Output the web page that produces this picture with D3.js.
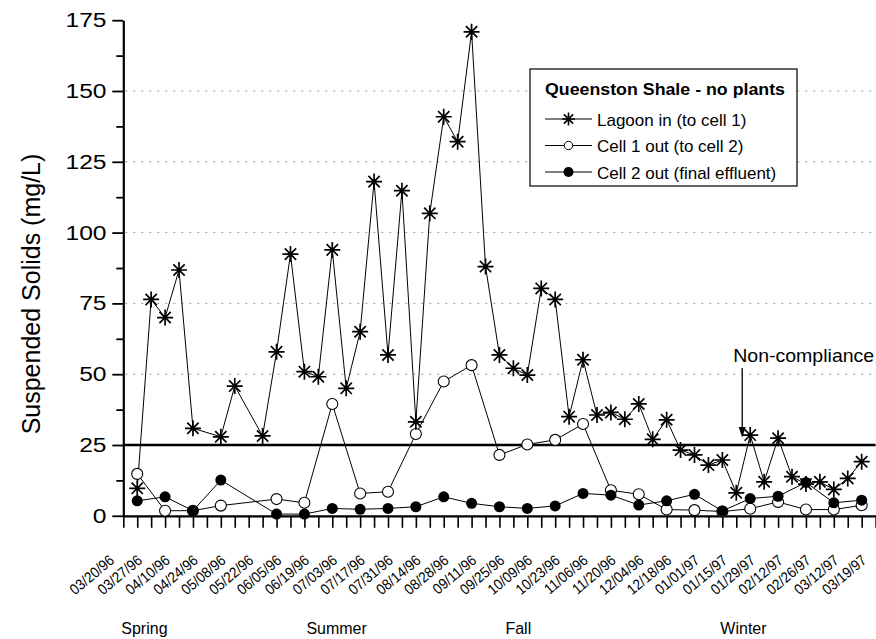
<!DOCTYPE html>
<html>
<head>
<meta charset="utf-8">
<script src="https://cdn.jsdelivr.net/npm/d3@7/dist/d3.min.js"></script>
<style>
  html, body { margin: 0; padding: 0; background: #fff; }
  svg { display: block; font-family: "Liberation Sans", Arial, sans-serif; }
</style>
</head>
<body>
<svg id="chart" width="876" height="639"></svg>
<script>
// Weekly sampling dates (Wednesday samples, 1996-97)
const sampleDates = [
  "03/20/96","03/27/96","04/03/96","04/10/96","04/17/96","04/24/96","05/01/96","05/08/96",
  "05/15/96","05/22/96","05/29/96","06/05/96","06/12/96","06/19/96","06/26/96","07/03/96",
  "07/10/96","07/17/96","07/24/96","07/31/96","08/07/96","08/14/96","08/21/96","08/28/96",
  "09/04/96","09/11/96","09/18/96","09/25/96","10/02/96","10/09/96","10/16/96","10/23/96",
  "10/30/96","11/06/96","11/13/96","11/20/96","11/27/96","12/04/96","12/11/96","12/18/96",
  "12/25/96","01/01/97","01/08/97","01/15/97","01/22/97","01/29/97","02/05/97","02/12/97",
  "02/19/97","02/26/97","03/05/97","03/12/97","03/19/97"
];

// Suspended solids (mg/L); null = not sampled that week
const lagoonIn = [
  9.7, 76.4, 70.0, 86.8, 30.9, null, 27.9, 45.8,
  null, 28.2, 57.9, 92.4, 50.9, 49.1, 93.9, 45.0,
  65.0, 118.0, 56.8, 114.8, 33.2, 106.8, 140.9, 132.1,
  170.9, 88.0, 56.8, 52.1, 49.7, 80.3, 76.4, 35.0,
  55.1, 35.6, 36.5, 34.1, 39.5, 27.0, 33.9, 23.2,
  21.5, 17.9, 19.7, 8.1, 28.5, 12.0, 27.4, 13.8,
  11.2, 12.0, 9.3, 13.2, 19.1
];
const cell1Out = [
  14.8, null, 1.8, null, 1.8, null, 3.6, null,
  null, null, 5.9, null, 4.6, null, 39.5, null,
  7.9, null, 8.5, null, 28.9, null, 47.4, null,
  53.2, null, 21.5, null, 25.2, null, 26.8, null,
  32.4, null, 9.0, null, 7.6, null, 2.2, null,
  2.0, null, 1.5, null, 2.5, null, 4.9, null,
  2.2, null, 2.2, null, 3.7
];
const cell2Out = [
  5.3, null, 6.7, null, 1.8, null, 12.6, null,
  null, null, 0.6, null, 0.6, null, 2.6, null,
  2.3, null, 2.6, null, 3.2, null, 6.7, null,
  4.4, null, 3.2, null, 2.6, null, 3.5, null,
  7.9, null, 7.3, null, 3.8, null, 5.3, null,
  7.6, null, 1.7, null, 6.1, null, 6.9, null,
  11.8, null, 4.6, null, 5.5
];

// Date tick labels, one on every second weekly tick
const tickLabels = [
  "03/20/96","03/27/96","04/10/96","04/24/96","05/08/96","05/22/96","06/05/96",
  "06/19/96","07/03/96","07/17/96","07/31/96","08/14/96","08/28/96","09/11/96",
  "09/25/96","10/09/96","10/23/96","11/06/96","11/20/96","12/04/96","12/18/96",
  "01/01/97","01/15/97","01/29/97","02/12/97","02/26/97","03/12/97","03/19/97"
];
const seasons = ["Spring", "Summer", "Fall", "Winter"];
const seasonStarts = ["03/12/96", "06/13/96", "09/21/96", "01/07/97"];

const yMajor = [0, 25, 50, 75, 100, 125, 150, 175];
const gridValues = [50, 75, 100, 125, 150];
const limit = 25; // compliance limit, mg/L

const seriesNames = ["Lagoon in (to cell 1)", "Cell 1 out (to cell 2)", "Cell 2 out (final effluent)"];
const legendTitle = "Queenston Shale - no plants";

// ---------------------------------------------------------------
const parse = d3.utcParse("%m/%d/%y");
const dates = sampleDates.map(parse);
const axisStart = d3.utcDay.offset(dates[0], -7);
const axisEnd = d3.utcDay.offset(dates[dates.length - 1], 7);

const svg = d3.select("#chart");
const x = d3.scaleUtc().domain([axisStart, axisEnd]).range([123.3, 875.6]);
const y = d3.scaleLinear().domain([0, 175]).range([515.8, 20.2]);

const weekTicks = d3.range(0, 55).map(i => d3.utcDay.offset(axisStart, 7 * i));

// dotted grid
svg.append("g").selectAll("line").data(gridValues).join("line")
  .attr("x1", x.range()[0] + 2).attr("x2", x.range()[1])
  .attr("y1", d => y(d)).attr("y2", d => y(d))
  .attr("stroke", "#9a9a9a").attr("stroke-width", 1)
  .attr("stroke-dasharray", "2,6");

// compliance limit line
svg.append("line")
  .attr("x1", x.range()[0]).attr("x2", x.range()[1])
  .attr("y1", y(limit)).attr("y2", y(limit))
  .attr("stroke", "#000").attr("stroke-width", 2.6);

// y axis: minor ticks, then labelled major ticks
svg.append("g").attr("transform", `translate(${x.range()[0]},0)`)
  .call(d3.axisLeft(y).tickValues(d3.range(12.5, 175, 25)).tickSize(7).tickFormat(""))
  .call(g => g.select(".domain").remove())
  .call(g => g.selectAll("line").attr("stroke-width", 1.8));
const yAxis = svg.append("g").attr("transform", `translate(${x.range()[0]},0)`)
  .call(d3.axisLeft(y).tickValues(yMajor).tickSize(11).tickSizeOuter(0).tickPadding(6).tickFormat(d3.format("d")));
yAxis.select(".domain").attr("stroke-width", 2.2);
yAxis.selectAll(".tick line").attr("stroke-width", 1.8);
yAxis.selectAll("text")
  .attr("font-size", 20.5)
  .attr("font-family", "Liberation Sans, Arial, sans-serif")
  .attr("x", -16.8)
  .attr("transform", "translate(-16.8,0) scale(1.2,1) translate(16.8,0)");

// x axis: weekly ticks
const xAxis = svg.append("g").attr("transform", `translate(0,${y(0)})`)
  .call(d3.axisBottom(x).tickValues(weekTicks).tickSize(12).tickSizeOuter(0).tickFormat(""));
xAxis.select(".domain").attr("stroke-width", 2.2);
xAxis.selectAll(".tick line").attr("stroke-width", 1.6);

// slanted date labels on every second tick
svg.append("g").selectAll("text").data(tickLabels).join("text")
  .attr("transform", (d, i) => `translate(${x(weekTicks[2 * i]) - 8},${y(0) + 46}) rotate(-40) scale(0.9,1)`)
  .attr("text-anchor", "end")
  .attr("font-size", 15)
  .text(d => d);

// season captions
svg.append("g").selectAll("text").data(seasons).join("text")
  .attr("x", (d, i) => x(parse(seasonStarts[i])))
  .attr("y", 634)
  .attr("font-size", 16)
  .text(d => d);

// y axis title
svg.append("text")
  .attr("transform", `translate(40,294) rotate(-90)`)
  .attr("text-anchor", "middle")
  .attr("font-size", 25)
  .text("Suspended Solids (mg/L)");

// series
function pts(values) {
  return values.map((v, i) => ({ date: dates[i], value: v })).filter(d => d.value !== null);
}
const lagoonPts = pts(lagoonIn), cell1Pts = pts(cell1Out), cell2Pts = pts(cell2Out);
const line = d3.line().x(d => x(d.date)).y(d => y(d.value));

[lagoonPts, cell1Pts, cell2Pts].forEach(p => {
  svg.append("path").datum(p).attr("d", line)
    .attr("fill", "none").attr("stroke", "#000").attr("stroke-width", 1);
});

function starPath(r) {
  const a = r * Math.SQRT1_2;
  return `M${-r},0L${r},0M0,${-r}L0,${r}M${-a},${-a}L${a},${a}M${-a},${a}L${a},${-a}`;
}

svg.append("g").selectAll("circle").data(cell1Pts).join("circle")
  .attr("cx", d => x(d.date)).attr("cy", d => y(d.value)).attr("r", 5.5)
  .attr("fill", "#fff").attr("stroke", "#000").attr("stroke-width", 1.1);

svg.append("g").selectAll("path").data(lagoonPts).join("path")
  .attr("transform", d => `translate(${x(d.date)},${y(d.value)})`)
  .attr("d", starPath(8))
  .attr("stroke", "#000").attr("stroke-width", 1.7).attr("fill", "none");

svg.append("g").selectAll("circle").data(cell2Pts).join("circle")
  .attr("cx", d => x(d.date)).attr("cy", d => y(d.value)).attr("r", 5.5)
  .attr("fill", "#000");

// non-compliance callout
const calloutDate = parse("01/22/97");
const ax = x(calloutDate) - 8;
svg.append("text")
  .attr("x", ax - 9).attr("y", 362)
  .attr("font-size", 18.5)
  .attr("textLength", 141).attr("lengthAdjust", "spacingAndGlyphs")
  .text("Non-compliance");
svg.append("line")
  .attr("x1", ax).attr("x2", ax)
  .attr("y1", 368).attr("y2", 430)
  .attr("stroke", "#000").attr("stroke-width", 1.3);
svg.append("path")
  .attr("d", `M${ax - 3.5},427L${ax + 3.5},427L${ax},437.5Z`)
  .attr("fill", "#000");

// legend
const lg = svg.append("g").attr("transform", "translate(530,69)");
lg.append("rect").attr("width", 267).attr("height", 117)
  .attr("fill", "#fff").attr("stroke", "#000").attr("stroke-width", 1.2);
lg.append("text").attr("x", 15).attr("y", 26)
  .attr("font-size", 17).attr("font-weight", "bold")
  .attr("textLength", 240).attr("lengthAdjust", "spacingAndGlyphs")
  .text(legendTitle);
const rows = lg.selectAll("g.row").data(seriesNames).join("g")
  .attr("class", "row")
  .attr("transform", (d, i) => `translate(0,${50 + i * 26.5})`);
rows.append("line").attr("x1", 15).attr("x2", 62).attr("y1", 0).attr("y2", 0)
  .attr("stroke", "#000").attr("stroke-width", 1);
rows.filter((d, i) => i === 0).append("path")
  .attr("transform", "translate(38.5,0)").attr("d", starPath(6.5))
  .attr("stroke", "#000").attr("stroke-width", 1.6);
rows.filter((d, i) => i === 1).append("circle")
  .attr("cx", 38.5).attr("r", 4.2).attr("fill", "#fff").attr("stroke", "#000");
rows.filter((d, i) => i === 2).append("circle")
  .attr("cx", 38.5).attr("r", 5).attr("fill", "#000");
rows.append("text").attr("x", 67).attr("y", 6.5)
  .attr("font-size", 17).text(d => d);
</script>
</body>
</html>
